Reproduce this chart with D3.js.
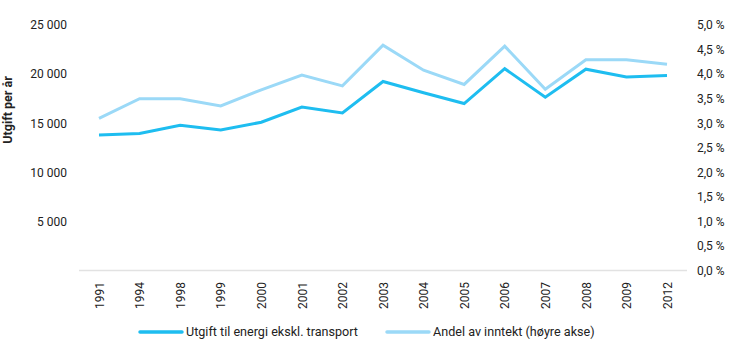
<!doctype html>
<html>
<head>
<meta charset="utf-8"/>
<script src="https://cdnjs.cloudflare.com/ajax/libs/d3/7.8.5/d3.min.js"></script>
<style>
  body { margin: 0; background: #fff; }
  svg text { font-family: Roboto, "Noto Sans", sans-serif; fill: #222; }
</style>
</head>
<body>
<svg id="chart" width="730" height="354"></svg>
<script>
// years on the x axis
var years = ["1991","1994","1998","1999","2000","2001","2002","2003","2004","2005","2006","2007","2008","2009","2012"];
// kroner per year (left axis)
var utgift = [13800,13950,14800,14300,15100,16650,16050,19250,18100,17000,20550,17650,20500,19700,19850];
// share of income, percent (right axis)
var andel = [3.1,3.5,3.5,3.35,3.68,3.98,3.76,4.59,4.08,3.79,4.57,3.69,4.29,4.29,4.2];
var leftTicks = [5000,10000,15000,20000,25000];
var rightTicks = [0,0.5,1,1.5,2,2.5,3,3.5,4,4.5,5];
var seriesNames = ["Utgift til energi ekskl. transport", "Andel av inntekt (høyre akse)"];
var colors = ["#1ebdf0", "#9bd9f7"];

var svg = d3.select("#chart");
var top_ = 25, bottom = 270.5;

var x = d3.scalePoint().domain(years).range([99, 667]);
var yL = d3.scaleLinear().domain([0, 25000]).range([bottom, top_]);
var yR = d3.scaleLinear().domain([0, 5]).range([bottom, top_]);

var fmtL = function(d){ return d3.format(",")(d).replace(",", " "); };
var fmtR = function(d){ return d3.format(".1f")(d).replace(".", ",") + " %"; };

// left axis labels
var gl = svg.append("g").attr("transform", "translate(67,0)")
  .call(d3.axisLeft(yL).tickValues(leftTicks).tickFormat(fmtL).tickSize(0).tickPadding(0));
gl.select(".domain").remove();
gl.selectAll("text").attr("font-size", 12).attr("font-family", "Roboto").attr("fill", "#222");

// right axis labels
var gr = svg.append("g").attr("transform", "translate(697,0)")
  .call(d3.axisRight(yR).tickValues(rightTicks).tickFormat(fmtR).tickSize(0).tickPadding(0));
gr.select(".domain").remove();
gr.selectAll("text").attr("font-size", 12).attr("font-family", "Roboto").attr("fill", "#222");

// baseline
svg.append("line")
  .attr("x1", 79).attr("x2", 687)
  .attr("y1", yL(0)).attr("y2", yL(0))
  .attr("stroke", "#e2e2e2").attr("stroke-width", 1.5);

// x labels
var gx = svg.append("g").attr("transform", "translate(0,282)")
  .call(d3.axisBottom(x).tickSize(0).tickPadding(0));
gx.select(".domain").remove();
gx.selectAll("text")
  .attr("font-size", 12).attr("font-family", "Roboto").attr("fill", "#222")
  .attr("transform", "rotate(-90)")
  .attr("text-anchor", "end")
  .attr("x", 0).attr("y", 0).attr("dy", "0.35em");

// y title
svg.append("text")
  .attr("transform", "translate(12,110) rotate(-90)")
  .attr("text-anchor", "middle")
  .attr("font-size", 12.5).attr("font-weight", "bold")
  .text("Utgift per år");

// lines
var lineL = d3.line().x(function(d, i){ return x(years[i]); }).y(function(d){ return yL(d); });
var lineR = d3.line().x(function(d, i){ return x(years[i]); }).y(function(d){ return yR(d); });

svg.append("path").attr("d", lineR(andel))
  .attr("fill", "none").attr("stroke", colors[1]).attr("stroke-width", 3).attr("stroke-linejoin", "miter");
svg.append("path").attr("d", lineL(utgift))
  .attr("fill", "none").attr("stroke", colors[0]).attr("stroke-width", 3).attr("stroke-linejoin", "miter");

// legend
var legX = [140, 387];
seriesNames.forEach(function(name, i){
  var g = svg.append("g").attr("transform", "translate(" + legX[i] + ",332)");
  g.append("line").attr("x1", 0).attr("x2", 42).attr("y1", 0).attr("y2", 0)
    .attr("stroke", colors[i]).attr("stroke-width", 3.5).attr("stroke-linecap", "round");
  g.append("text").attr("x", 46).attr("dy", "0.35em")
    .attr("font-size", 12.6).text(name);
});
</script>
</body>
</html>
